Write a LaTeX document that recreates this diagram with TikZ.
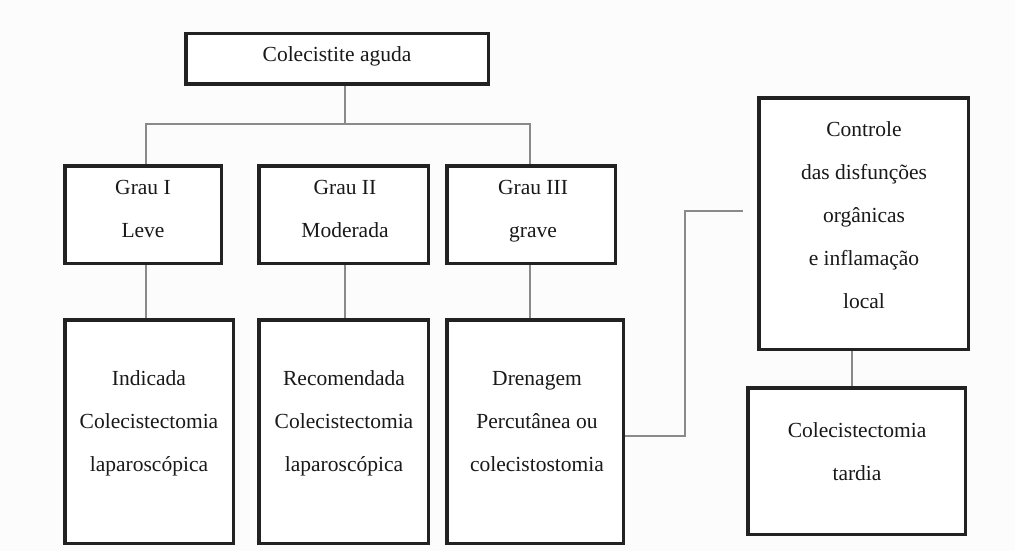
\documentclass[tikz,border=0pt]{standalone}
\usepackage{fontspec}
\setmainfont{Liberation Serif}
\definecolor{boxc}{HTML}{222222}
\definecolor{linec}{HTML}{8A8A8A}
\definecolor{bgc}{HTML}{FCFCFC}
\begin{document}
\begin{tikzpicture}[x=1pt,y=-1pt,
  box/.style={draw=boxc, line width=3.5pt, fill=white, inner sep=0pt},
  txt/.style={align=center, inner sep=0pt, text=black!90, font=\fontsize{21.5}{43}\selectfont},
  conn/.style={draw=linec, line width=1.5pt}]
\fill[bgc] (0,0) rectangle (1015,551);
\useasboundingbox (0,0) rectangle (1015,551);
% boxes
\node[box, minimum width=302.5pt, minimum height=50.5pt] (top) at (337,59) {};
\node[box, minimum width=156.5pt, minimum height=97.5pt] (g1) at (143,214.5) {};
\node[box, minimum width=169.5pt, minimum height=97.5pt] (g2) at (343.5,214.5) {};
\node[box, minimum width=168.5pt, minimum height=97.5pt] (g3) at (531,214.5) {};
\node[box, minimum width=168.5pt, minimum height=223.5pt] (b1) at (149,431.5) {};
\node[box, minimum width=169.5pt, minimum height=223.5pt] (b2) at (343.5,431.5) {};
\node[box, minimum width=176.5pt, minimum height=223.5pt] (b3) at (535,431.5) {};
\node[box, minimum width=209.5pt, minimum height=251.5pt] (c) at (863.5,223.5) {};
\node[box, minimum width=217.5pt, minimum height=146.5pt] (t) at (856.5,461) {};
% texts
\node[txt] (ttop) at (337,56) {Colecistite aguda};
\node[txt] (tg1) at (143,209) {Grau I\\Leve};
\node[txt] (tg2) at (345,209) {Grau II\\Moderada};
\node[txt] (tg3) at (533,211) {Grau III\\grave};
\node[txt] (tb1) at (149,423) {Indicada\\Colecistectomia\\laparoscópica};
\node[txt] (tb2) at (344,423) {Recomendada\\Colecistectomia\\laparoscópica};
\node[txt] (tb3) at (537,422) {Drenagem\\Percutânea ou\\colecistostomia};
\node[txt] (tc) at (864,215.5) {Controle\\das disfunções\\orgânicas\\e inflamação\\local};
\node[txt] (tt) at (857,452) {Colecistectomia\\tardia};
% connectors
\coordinate (j) at (345,124);
\coordinate (e) at (743,211);
\draw[conn] (top.south -| j) -- (j);
\draw[conn] ([xshift=3pt]g1.north) |- (j) -| ([xshift=-1pt]g3.north);
\draw[conn] ([xshift=3pt]g1.south) -- ([xshift=3pt]g1.south |- b1.north);
\draw[conn] ([xshift=1.5pt]g2.south) -- ([xshift=1.5pt]g2.south |- b2.north);
\draw[conn] ([xshift=-1pt]g3.south) -- ([xshift=-1pt]g3.south |- b3.north);
\draw[conn] ([yshift=-4.5pt]b3.east) -| (685,211) -- (e);
\draw[conn] ([xshift=-11.5pt]c.south) -- ([xshift=-11.5pt]c.south |- t.north);
\end{tikzpicture}
\end{document}
